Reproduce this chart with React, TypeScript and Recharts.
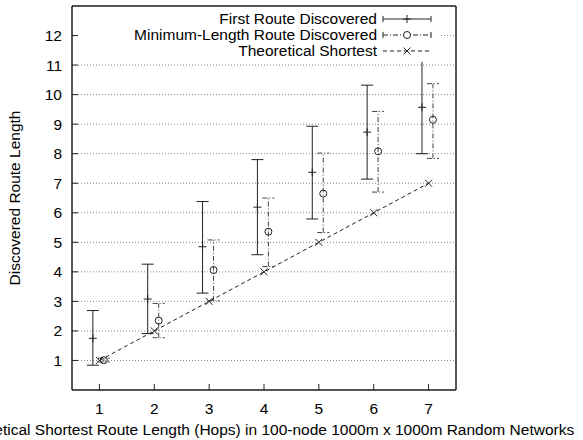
import React from 'react';
import {
  ScatterChart,
  Scatter,
  XAxis,
  YAxis,
  CartesianGrid,
  ErrorBar,
  Legend,
} from 'recharts';

const hops = [1, 2, 3, 4, 5, 6, 7];

const firstMean = [1.75, 3.08, 4.85, 6.19, 7.37, 8.73, 9.57];
const firstLow = [0.84, 1.91, 3.28, 4.58, 5.79, 7.14, 8.0];
const firstHigh = [2.69, 4.26, 6.38, 7.8, 8.93, 10.32, 11.13];

const minMean = [1.01, 2.35, 4.06, 5.36, 6.65, 8.08, 9.15];
const minLow = [0.95, 1.77, 3.02, 4.18, 5.33, 6.7, 7.84];
const minHigh = [1.08, 2.93, 5.08, 6.5, 8.02, 9.43, 10.37];

const theoretical = [1, 2, 3, 4, 5, 6, 7];

const xTicks = [1, 2, 3, 4, 5, 6, 7];
const yTicks = [1, 2, 3, 4, 5, 6, 7, 8, 9, 10, 11, 12];

const seriesNames = ['First Route Discovered', 'Minimum-Length Route Discovered', 'Theoretical Shortest'];

const FONT = '"Liberation Sans", Arial, Helvetica, sans-serif';
const FS = 15.5;
const INK = '#222';

const firstData = hops.map((h, i) => ({
  x: h - 0.12,
  y: firstMean[i],
  err: [firstMean[i] - firstLow[i], firstHigh[i] - firstMean[i]],
}));

const minData = hops.map((h, i) => ({
  x: h + 0.08,
  y: minMean[i],
  err: [minMean[i] - minLow[i], minHigh[i] - minMean[i]],
}));

const theoryData = hops.map((h, i) => ({ x: h, y: theoretical[i] }));

const PlusMark = (props: any) => {
  const { cx, cy } = props;
  return <path d={`M${cx - 4},${cy}H${cx + 4}M${cx},${cy - 4}V${cy + 4}`} stroke={INK} strokeWidth={1} fill="none" />;
};

const CircleMark = (props: any) => {
  const { cx, cy } = props;
  return <circle cx={cx} cy={cy} r={3.5} stroke={INK} strokeWidth={1} fill="none" />;
};

const CrossMark = (props: any) => {
  const { cx, cy } = props;
  const s = 3.5;
  return (
    <path
      d={`M${cx - s},${cy - s}L${cx + s},${cy + s}M${cx - s},${cy + s}L${cx + s},${cy - s}`}
      stroke={INK}
      strokeWidth={1}
      fill="none"
    />
  );
};

const LegendSample = ({ index }: { index: number }) => {
  const m = 8;
  if (index === 0) {
    return (
      <svg width={50} height={16}>
        <path d={`M1,${m}H49M1,${m - 3}V${m + 3}M49,${m - 3}V${m + 3}`} stroke={INK} fill="none" />
        <path d={`M21,${m}H29M25,${m - 4}V${m + 4}`} stroke={INK} fill="none" />
      </svg>
    );
  }
  if (index === 1) {
    return (
      <svg width={50} height={16}>
        <path d={`M1,${m}H49`} stroke={INK} fill="none" strokeDasharray="5 2 1 2" />
        <path d={`M1,${m - 3}V${m + 3}M49,${m - 3}V${m + 3}`} stroke={INK} fill="none" />
        <circle cx={25} cy={m} r={3.5} stroke={INK} fill="#fff" />
      </svg>
    );
  }
  return (
    <svg width={50} height={16}>
      <path d={`M1,${m}H49`} stroke={INK} fill="none" strokeDasharray="4 3" />
      <path d={`M21.5,${m - 3.5}L28.5,${m + 3.5}M21.5,${m + 3.5}L28.5,${m - 3.5}`} stroke={INK} fill="none" />
    </svg>
  );
};

const renderLegend = () => (
  <div style={{ background: '#fff', width: '100%', height: '100%', paddingTop: 3, boxSizing: 'border-box' }}>
    {seriesNames.map((name, i) => (
      <div key={name} style={{ display: 'flex', alignItems: 'center', height: 16 }}>
        <div
          style={{
            width: 299,
            textAlign: 'right',
            fontFamily: FONT,
            fontSize: FS,
            color: '#000',
            lineHeight: '16px',
            whiteSpace: 'nowrap',
          }}
        >
          {name}
        </div>
        <div style={{ width: 5 }} />
        <LegendSample index={i} />
      </div>
    ))}
  </div>
);

const YLabel = (props: any) => {
  const vb = props.viewBox || {};
  const x = (vb.x || 0) + 14;
  const y = vb.y + vb.height / 2;
  return (
    <text
      x={x}
      y={y}
      transform={`rotate(-90, ${x}, ${y})`}
      textAnchor="middle"
      dominantBaseline="central"
      fontFamily={FONT}
      fontSize={FS}
      fill="#000"
    >
      Discovered Route Length
    </text>
  );
};

const tickStyle = { fontFamily: FONT, fontSize: FS, fill: '#000' };

const App = () => {
  return (
    <div style={{ position: 'absolute', left: 0, top: 0, width: 583, height: 440, background: '#fff' }}>
      <ScatterChart width={583} height={440} margin={{ top: 5, right: 126, bottom: 0, left: 0 }}>
        <CartesianGrid horizontal vertical={false} stroke="#888" strokeDasharray="1 2" />
        <XAxis
          xAxisId={0}
          type="number"
          dataKey="x"
          domain={[0.5, 7.5]}
          ticks={xTicks}
          height={50}
          tickSize={-6}
          tickMargin={19}
          tick={tickStyle}
          axisLine={{ stroke: INK, strokeWidth: 1.5 }}
          tickLine={{ stroke: INK }}
          label={{
            value: 'Theoretical Shortest Route Length (Hops) in 100-node 1000m x 1000m Random Networks',
            position: 'insideBottom',
            offset: 5,
            style: { fontFamily: FONT, fontSize: FS, fill: '#000' },
          }}
        />
        <XAxis
          xAxisId="top"
          orientation="top"
          type="number"
          domain={[0.5, 7.5]}
          ticks={xTicks}
          height={1}
          tickSize={-6}
          tick={false}
          axisLine={{ stroke: INK, strokeWidth: 1.5 }}
          tickLine={{ stroke: INK }}
        />
        <YAxis
          yAxisId={0}
          type="number"
          dataKey="y"
          domain={[0, 13]}
          ticks={yTicks}
          width={72}
          tickSize={-6}
          tickMargin={16}
          tick={tickStyle}
          axisLine={{ stroke: INK, strokeWidth: 1.5 }}
          tickLine={{ stroke: INK }}
          label={{ content: YLabel }}
        />
        <YAxis
          yAxisId="right"
          orientation="right"
          type="number"
          domain={[0, 13]}
          ticks={yTicks}
          width={1}
          tickSize={-6}
          tick={false}
          axisLine={{ stroke: INK, strokeWidth: 1.5 }}
          tickLine={{ stroke: INK }}
        />
        <Legend
          layout="vertical"
          verticalAlign="middle"
          align="center"
          content={renderLegend}
          wrapperStyle={{ top: 8, left: 78, width: 362, height: 54 }}
        />
        <Scatter
          name={seriesNames[2]}
          data={theoryData}
          shape={CrossMark}
          line={{ stroke: INK, strokeWidth: 1, strokeDasharray: '4 3' }}
          lineType="joint"
          isAnimationActive={false}
        />
        <Scatter name={seriesNames[0]} data={firstData} shape={PlusMark} isAnimationActive={false}>
          <ErrorBar dataKey="err" direction="y" width={6} stroke={INK} strokeWidth={1} />
        </Scatter>
        <Scatter name={seriesNames[1]} data={minData} shape={CircleMark} isAnimationActive={false}>
          <ErrorBar dataKey="err" direction="y" width={6} stroke="#444" strokeWidth={1} strokeDasharray="5 2 1 2" />
        </Scatter>
      </ScatterChart>
    </div>
  );
};

export default App;
